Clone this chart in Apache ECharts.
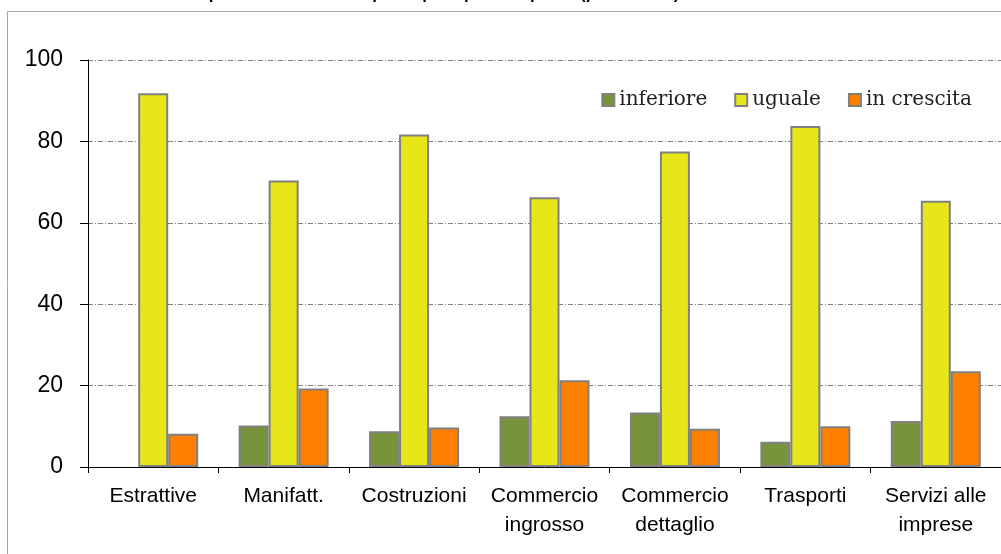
<!DOCTYPE html>
<html>
<head>
<meta charset="utf-8">
<style>html,body{margin:0;padding:0;background:#fff;}#c{width:1001px;height:554px;}</style>
<script src="https://cdn.jsdelivr.net/npm/echarts@6/dist/echarts.min.js"></script>
</head>
<body>
<div id="c"></div>
<script>
const categories = ['Estrattive', 'Manifatt.', 'Costruzioni', 'Commercio\ningrosso', 'Commercio\ndettaglio', 'Trasporti', 'Servizi alle\nimprese'];
const seriesNames = ['inferiore', 'uguale', 'in crescita'];
const inferiore = [0, 10.2, 8.8, 12.5, 13.4, 6.2, 11.3];
const uguale = [91.8, 70.4, 81.7, 66.3, 77.5, 83.8, 65.4];
const inCrescita = [8.2, 19.3, 9.7, 21.3, 9.4, 10.0, 23.5];
const yTicks = [0, 20, 40, 60, 80, 100];
const titleText = "Andamento del fatturato: percentuale delle imprese per tipo di risposta (per settore)";

const colors = ['#77933C', '#E6E619', '#FF8000'];
const chart = echarts.init(document.getElementById('c'));
const mk = (name, data, i) => ({
  name: name, type: 'bar',
  data: data.map(v => v === 0 ? { value: v, itemStyle: { borderWidth: 0 } } : v),
  barWidth: 30, barGap: '0%',
  itemStyle: { color: colors[i], borderColor: '#808080', borderWidth: 2 },
  emphasis: { disabled: true }
});
chart.setOption({
  animation: false,
  graphic: [
    { type: 'rect', z: -10, shape: { x: 7.5, y: 11.5, width: 1200, height: 800 },
      style: { fill: 'none', stroke: '#a6a6a6', lineWidth: 1 } },
    { type: 'text', left: 2, top: -14,
      style: { text: titleText, font: 'bold 17px Arial, "Liberation Sans"', fill: '#000' } }
  ],
  legend: {
    data: seriesNames, right: 24, top: 85, icon: 'rect', itemWidth: 12, itemHeight: 12, itemGap: 27,
    textStyle: { fontFamily: '"DejaVu Serif"', fontSize: 20, color: '#222' }
  },
  grid: { left: 88, top: 60, width: 920, height: 407, containLabel: false },
  xAxis: {
    type: 'category', data: categories,
    axisLine: { lineStyle: { color: '#000', width: 1 } },
    axisTick: { show: true, length: 6, lineStyle: { color: '#000' } },
    axisLabel: { fontFamily: 'Arial, "Liberation Sans"', fontSize: 21, color: '#000', margin: 15, lineHeight: 29, interval: 0 }
  },
  yAxis: {
    type: 'value', min: 0, max: 100, interval: 20,
    axisLine: { show: true, lineStyle: { color: '#000', width: 1 } },
    axisTick: { show: true, length: 8, lineStyle: { color: '#000' } },
    axisLabel: { fontFamily: 'Arial, "Liberation Sans"', fontSize: 23, color: '#000', margin: 25,
      formatter: v => yTicks.includes(v) ? String(v) : '' },
    splitLine: { show: true, lineStyle: { color: '#808080', width: 1, type: [5, 2, 1, 2] } }
  },
  series: [mk(seriesNames[0], inferiore, 0), mk(seriesNames[1], uguale, 1), mk(seriesNames[2], inCrescita, 2)]
});
</script>
</body>
</html>
